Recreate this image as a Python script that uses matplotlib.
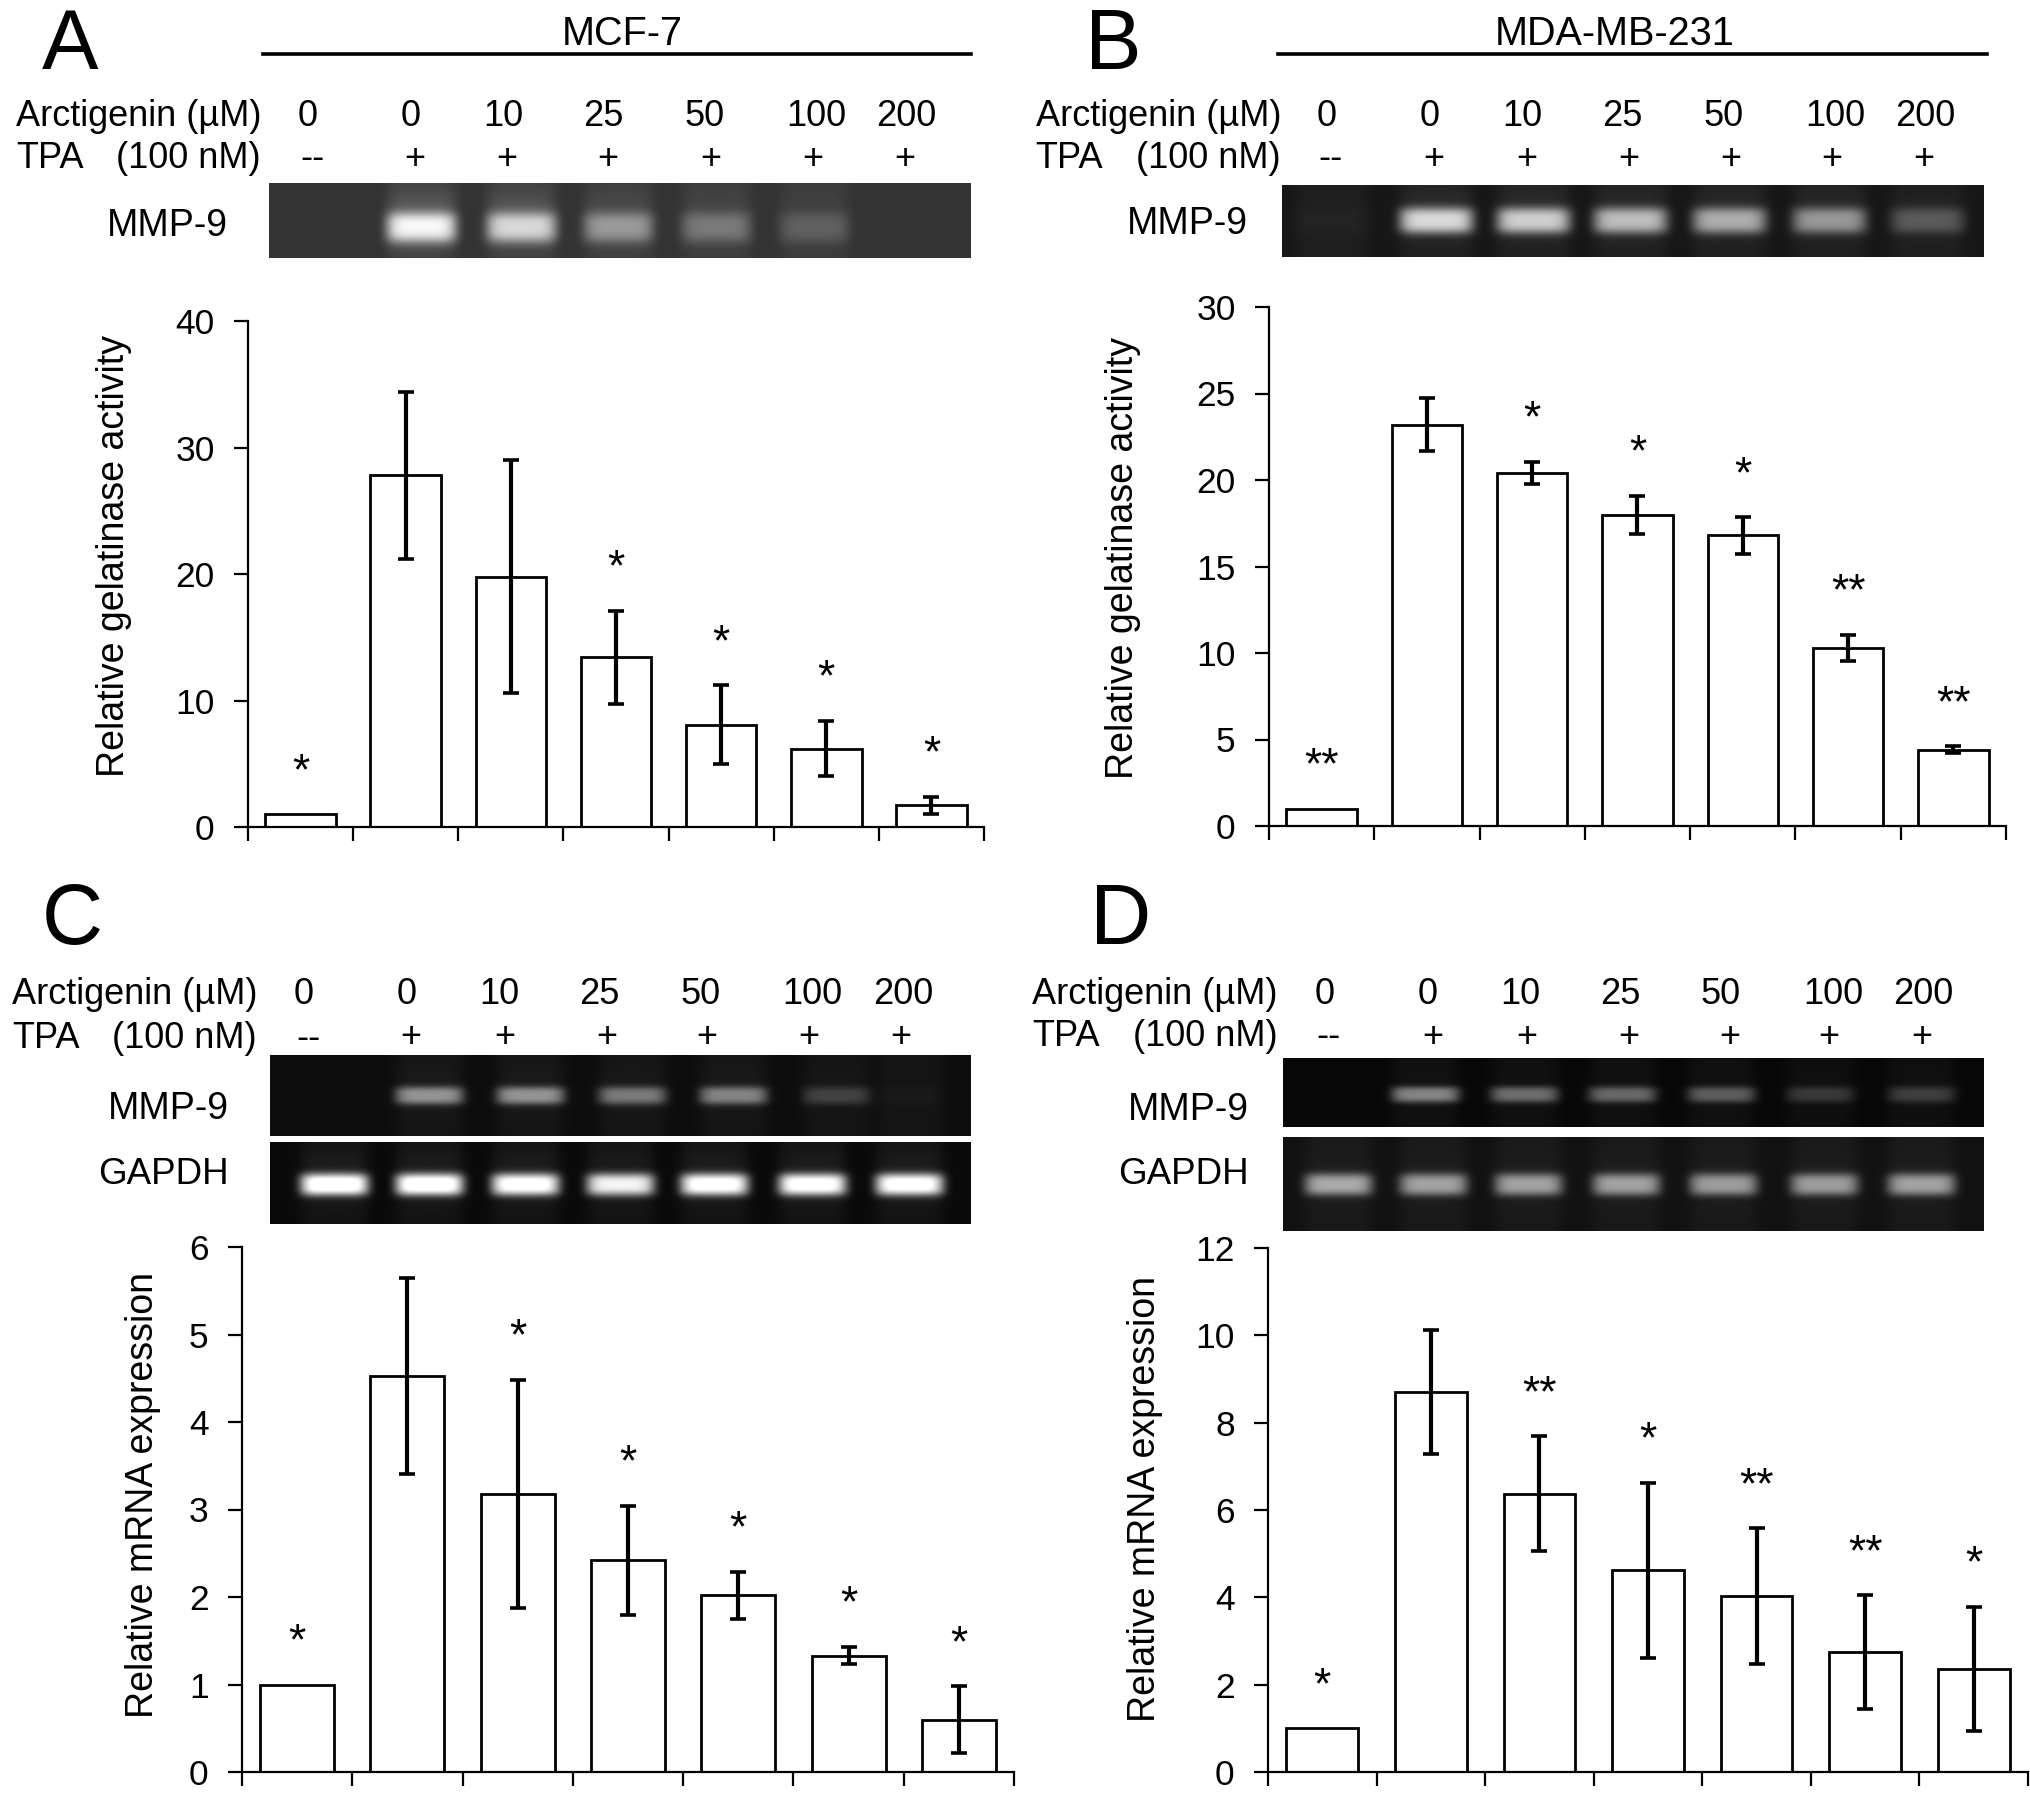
import numpy as np
from matplotlib import pyplot as plt

plt.rcParams['font.family'] = ['Liberation Sans', 'DejaVu Sans']

W, H = 2031, 1793

# bar values and errors
a_vals = [1, 27.8, 19.8, 13.4, 8.1, 6.2, 1.7]
a_errs = [0, 6.6, 9.2, 3.7, 3.1, 2.2, 0.7]
a_stars = ['*', '', '', '*', '*', '*', '*']
b_vals = [1, 23.2, 20.4, 18.0, 16.8, 10.3, 4.4]
b_errs = [0, 1.55, 0.65, 1.1, 1.05, 0.75, 0.2]
b_stars = ['**', '', '*', '*', '*', '**', '**']
c_vals = [1, 4.53, 3.18, 2.42, 2.02, 1.33, 0.6]
c_errs = [0, 1.12, 1.3, 0.62, 0.27, 0.1, 0.38]
c_stars = ['*', '', '*', '*', '*', '*', '*']
d_vals = [1, 8.7, 6.37, 4.62, 4.03, 2.75, 2.37]
d_errs = [0, 1.42, 1.32, 2.0, 1.55, 1.3, 1.42]
d_stars = ['*', '', '**', '*', '**', '**', '*']

doses = ['0', '0', '10', '25', '50', '100', '200']
tpa = ['--', '+', '+', '+', '+', '+', '+']

# band brightness per lane, 0..1
a_mmp = [0.6, 0.5, 0.3, 0.2, 0.12]
b_mmp = [0.02, 0.68, 0.64, 0.58, 0.52, 0.44, 0.22]
c_mmp = [0.48, 0.48, 0.38, 0.42, 0.17, 0.02]
c_gapdh = [1.0, 1.0, 0.95, 0.85, 0.95, 0.95, 0.95]
d_mmp = [0.45, 0.36, 0.34, 0.3, 0.16, 0.18]
d_gapdh = [0.55, 0.52, 0.52, 0.52, 0.5, 0.5, 0.52]

fig = plt.figure(figsize=(W / 100, H / 100), dpi=100)
page = fig.add_axes([0, 0, 1, 1])


def gel(x0, x1, y0, y1, lanes, levels, band_y, sy, halfw, bg, glow=0.0):
    xs = np.arange(x0, x1)
    ys = np.arange(y0, y1)
    xx, yy = np.meshgrid(xs, ys)
    img = np.full(xx.shape, bg, dtype=float)
    for lx, lev in zip(lanes, levels):
        prof = np.exp(-np.abs((xx - lx) / halfw) ** 6)
        core = np.exp(-np.abs((yy - band_y) / sy) ** 3)
        up = np.exp(-((yy - band_y + 8) / 30.0) ** 2)
        img += prof * (lev * core + glow * lev * up + 0.03)
    page.imshow(np.clip(img, 0, 1), cmap='gray', vmin=0, vmax=1, aspect='auto',
                extent=(x0, x1, y1, y0), interpolation='bilinear')


def bars(px_left, px_right, px_top, px_bottom, ymax, step, vals, errs, stars, ylabel, ylab_x, ylab_y, bw):
    ax = fig.add_axes([px_left / W, 1 - px_bottom / H, (px_right - px_left) / W, (px_bottom - px_top) / H])
    ax.patch.set_alpha(0)
    x = np.arange(1, 8)
    ax.bar(x, vals, width=bw, color='white', edgecolor='black', linewidth=2)
    for xi, v, e in zip(x, vals, errs):
        if e > 0:
            ax.errorbar(xi, v, yerr=e, color='black', elinewidth=3, capsize=6, capthick=2.6)
    for xi, v, e, s in zip(x, vals, errs, stars):
        if s:
            ax.annotate(s, xy=(xi, v + e), xytext=(0, 30), textcoords='offset points',
                        ha='center', va='center', fontsize=32)
    ax.set_xlim(0.5, 7.5)
    ax.set_ylim(0, ymax)
    ax.set_xticks(np.arange(0.5, 8))
    ax.set_xticklabels([])
    ax.set_yticks(np.arange(0, ymax + step, step))
    ax.spines['top'].set_visible(False)
    ax.spines['right'].set_visible(False)
    ax.spines['left'].set_linewidth(1.6)
    ax.spines['bottom'].set_linewidth(1.6)
    ax.tick_params(axis='both', width=1.6, length=10, labelsize=25.5, pad=14)
    page.text(ylab_x, ylab_y, ylabel, rotation=90, ha='center', va='center', fontsize=27)
    return ax


def header(right, y0, y1, dose_x, plus_x, left):
    page.text(right, y0, 'Arctigenin (µM)', ha='right', va='center', fontsize=26)
    page.text(left, y1, 'TPA', ha='left', va='center', fontsize=26)
    page.text(right, y1, '(100 nM)', ha='right', va='center', fontsize=26)
    for xd, d in zip(dose_x, doses):
        page.text(xd, y0, d, ha='center', va='center', fontsize=26)
    for xp, t in zip(plus_x, tpa):
        page.text(xp, y1, t, ha='center', va='center', fontsize=26)


# panel A
gel(269, 971, 183, 258, [421, 521, 618, 716, 814], a_mmp, 227, 15, 35, 0.2, 0.25)
bars(248, 984, 321, 827, 40, 10, a_vals, a_errs, a_stars, 'Relative gelatinase activity', 114, 556, 0.67)
header(261, 116, 159, [308, 411, 503, 603, 705, 816, 906], [312, 415, 507, 608, 711, 813, 905], 16)
page.text(228, 226, 'MMP-9', ha='right', va='center', fontsize=27)
page.text(70, 47, 'A', ha='center', va='center', fontsize=61)
page.text(622, 34, 'MCF-7', ha='center', va='center', fontsize=28.5)
page.plot([263, 971], [54, 54], color='black', lw=2.6)

# panel B
gel(1282, 1984, 185, 257, [1331, 1436, 1533, 1630, 1729, 1829, 1927], b_mmp, 220, 13, 37, 0.09, 0.08)
bars(1269, 2006, 307, 826, 30, 5, b_vals, b_errs, b_stars, 'Relative gelatinase activity', 1123, 558, 0.67)
header(1281, 116, 159, [1327, 1430, 1522, 1622, 1724, 1835, 1925], [1330, 1434, 1527, 1629, 1731, 1832, 1924], 1035)
page.text(1248, 224, 'MMP-9', ha='right', va='center', fontsize=27)
page.text(1113, 47, 'B', ha='center', va='center', fontsize=61)
page.text(1615, 34, 'MDA-MB-231', ha='center', va='center', fontsize=28.5)
page.plot([1278, 1987], [54, 54], color='black', lw=2.6)

# panel C
gel(270, 971, 1055, 1136, [429, 530, 632, 733, 836, 909], c_mmp, 1095, 9, 34, 0.05, 0.05)
gel(270, 971, 1142, 1224, [334, 429, 525, 620, 714, 812, 909], c_gapdh, 1184, 11, 34, 0.04, 0.05)
bars(242, 1014, 1247, 1772, 6, 1, c_vals, c_errs, c_stars, 'Relative mRNA expression', 143, 1495, 0.67)
header(257, 995, 1038, [304, 407, 499, 599, 701, 812, 903], [308, 411, 505, 607, 707, 809, 901], 12)
page.text(229, 1109, 'MMP-9', ha='right', va='center', fontsize=27)
page.text(229, 1174, 'GAPDH', ha='right', va='center', fontsize=26.5)
page.text(72, 922, 'C', ha='center', va='center', fontsize=61)

# panel D
gel(1283, 1984, 1058, 1127, [1425, 1524, 1622, 1721, 1820, 1921], d_mmp, 1094, 8, 34, 0.03, 0.02)
gel(1283, 1984, 1137, 1231, [1338, 1433, 1528, 1626, 1723, 1824, 1921], d_gapdh, 1184, 11, 34, 0.07, 0.03)
bars(1268, 2028, 1248, 1772, 12, 2, d_vals, d_errs, d_stars, 'Relative mRNA expression', 1145, 1499, 0.66)
header(1278, 994, 1037, [1325, 1428, 1520, 1620, 1721, 1833, 1923], [1328, 1433, 1527, 1629, 1730, 1829, 1922], 1032)
page.text(1249, 1110, 'MMP-9', ha='right', va='center', fontsize=27)
page.text(1249, 1174, 'GAPDH', ha='right', va='center', fontsize=26.5)
page.text(1121, 922, 'D', ha='center', va='center', fontsize=61)

page.set_xlim(0, W)
page.set_ylim(H, 0)
page.axis('off')
fig.savefig('out.png', dpi=100)
